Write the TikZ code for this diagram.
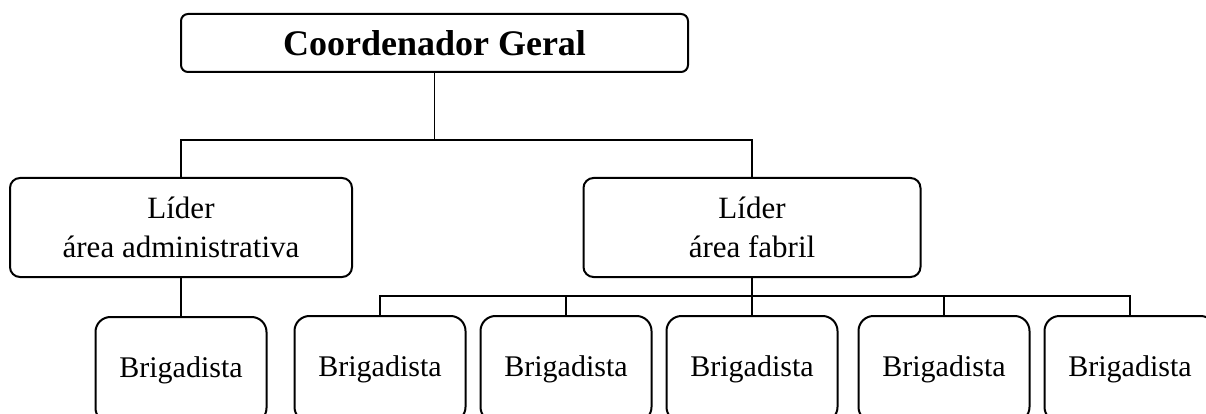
\documentclass[tikz,border=0pt]{standalone}
\usepackage{fontspec}
\setmainfont{Liberation Serif}

\begin{document}
\begin{tikzpicture}[
            x=1pt, y=-1pt, line width=2pt,
            caixa/.style={draw, rounded corners=10pt, align=center, inner sep=0pt,
                font=\fontsize{30}{39}\selectfont},
            chefe/.style={caixa, rounded corners=7pt, minimum width=507pt, minimum height=58pt,
                font=\bfseries\fontsize{36}{43}\selectfont},
            lider/.style={caixa, minimum height=99pt, font=\fontsize{31}{39}\selectfont},
            brigada/.style={caixa, rounded corners=15pt, minimum width=171pt, minimum height=106pt},
            ligacao/.style={line width=1.6pt},
        ]
            % --- Area visivel (as caixas de baixo ficam cortadas) ---
            \useasboundingbox (0,0) rectangle (1206,414);
            \clip (0,0) rectangle (1206,414);

            % --- Coordenacao e lideres ---
            \node[chefe] (coord) at (434.5,43) {Coordenador Geral};
            \node[lider, minimum width=342pt] (liderA) at (181,227.5) {Líder\\área administrativa};
            \node[lider, minimum width=337pt] (liderF) at (752,227.5) {Líder\\área fabril};

            % --- Brigadistas ---
            \node[brigada] (bA) at (181,370) {Brigadista};
            \foreach \x [count=\i] in {380,566,752,944,1130} {
                \node[brigada] (bF\i) at (\x,369) {Brigadista};
            }

            % --- Ligacoes ---
            \coordinate (barraTopo) at (0,140);
            \coordinate (barraBase) at (0,296);
            \draw[ligacao] (coord.south) -- (coord.south |- barraTopo);
            \draw[ligacao] (liderA.north) |- (barraTopo -| liderF.north) -- (liderF.north);
            \draw[ligacao] (liderA.south) -- (bA.north);
            \draw[ligacao] (liderF.south) -- (liderF.south |- barraBase);
            \draw[ligacao] (bF1.north) |- (barraBase -| bF5.north) -- (bF5.north);
            \foreach \i in {2,3,4} {
                \draw[ligacao] (bF\i.north) -- (bF\i.north |- barraBase);
            }
        \end{tikzpicture}
\end{document}
